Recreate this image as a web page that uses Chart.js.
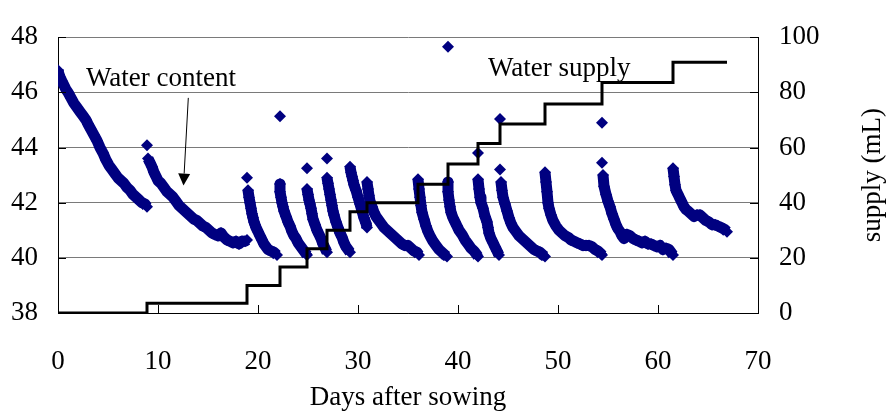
<!DOCTYPE html>
<html>
<head>
<meta charset="utf-8">
<script src="https://cdn.jsdelivr.net/npm/chart.js@4.4.1/dist/chart.umd.min.js"></script>
<style>
  html, body { margin: 0; padding: 0; background: #fff; }
</style>
</head>
<body>
<canvas id="chart" width="890" height="414"></canvas>
<script>
// ===== DATA =====
const dayTicks = [0, 10, 20, 30, 40, 50, 60, 70];
const contentTicks = [38, 40, 42, 44, 46, 48];
const supplyTicks = [0, 20, 40, 60, 80, 100];

// water content readings, one line per watering cycle
const contentDays = [
  0, 0.1, 0.2, 0.4, 0.6, 0.8, 1.0, 1.3, 1.6, 1.9, 2.2, 2.5, 2.8, 3.0, 3.3, 3.6, 3.9, 4.2, 4.5, 4.8, 5.1, 5.4, 5.7, 6.0, 6.3, 6.6, 6.9, 7.2, 7.5, 7.8, 8.1, 8.4, 8.7, 8.9,
  8.9, 9.0, 9.2, 9.4, 9.6, 9.8, 10.0, 10.3, 10.6, 10.9, 11.2, 11.5, 11.8, 12.1, 12.4, 12.7, 13.0, 13.3, 13.6, 13.9, 14.2, 14.5, 14.8, 15.1, 15.4, 15.7, 16.0, 16.3, 16.6, 16.9, 17.2, 17.5, 17.8, 18.1, 18.4, 18.7, 18.9,
  18.9, 19.0, 19.1, 19.2, 19.3, 19.4, 19.5, 19.6, 19.7, 19.8, 20.0, 20.2, 20.4, 20.6, 20.8, 21.0, 21.3, 21.6, 21.9,
  22.2, 22.2, 22.2, 22.3, 22.4, 22.5, 22.6, 22.8, 23.0, 23.2, 23.4, 23.6, 23.8, 24.0, 24.2, 24.4, 24.6, 24.8, 24.9,
  24.9, 24.9, 25.0, 25.1, 25.2, 25.3, 25.4, 25.5, 25.7, 25.9, 26.1, 26.3, 26.5, 26.7, 26.9,
  26.9, 26.9, 27.0, 27.1, 27.2, 27.3, 27.4, 27.5, 27.6, 27.8, 28.0, 28.2, 28.4, 28.6, 28.8, 29.0, 29.2,
  29.2, 29.3, 29.4, 29.5, 29.6, 29.8, 30.0, 30.2, 30.4, 30.6, 30.8, 30.9,
  30.9, 31.0, 31.1, 31.2, 31.4, 31.6, 31.8, 32.0, 32.3, 32.6, 32.9, 33.2, 33.5, 33.8, 34.1, 34.4, 34.7, 35.0, 35.3, 35.6, 35.9, 36.1,
  36.0, 36.1, 36.2, 36.3, 36.4, 36.6, 36.8, 37.0, 37.2, 37.5, 37.8, 38.1, 38.4, 38.7, 38.9,
  39.0, 39.0, 39.0, 39.1, 39.2, 39.3, 39.5, 39.7, 39.9, 40.1, 40.4, 40.7, 41.0, 41.3, 41.6, 41.9, 42.0,
  42.0, 42.0, 42.1, 42.2, 42.3, 42.5, 42.7, 42.9, 43.0, 43.1, 43.3, 43.5, 43.7, 43.9, 44.1,
  44.2, 44.2, 44.3, 44.4, 44.5, 44.7, 44.9, 45.1, 45.3, 45.5, 45.8, 46.1, 46.4, 46.7, 47.0, 47.3, 47.6, 47.9, 48.2, 48.5, 48.7,
  48.7, 48.8, 48.9, 49.0, 49.1, 49.3, 49.5, 49.8, 50.1, 50.4, 50.7, 51.0, 51.3, 51.6, 51.9, 52.2, 52.5, 52.8, 53.1, 53.4, 53.7, 54.0, 54.3, 54.4,
  54.4, 54.4, 54.5, 54.6, 54.8, 55.0, 55.2, 55.4, 55.6, 55.8, 56.0, 56.2, 56.4, 56.6, 56.9, 57.2, 57.5, 57.8, 58.1, 58.4, 58.7, 59.0, 59.3, 59.6, 59.9, 60.2, 60.5, 60.8, 61.1, 61.3, 61.5,
  61.5, 61.6, 61.7, 61.8, 62.0, 62.2, 62.4, 62.6, 62.8, 63.0, 63.3, 63.6, 63.9, 64.2, 64.5, 64.8, 65.1, 65.4, 65.7, 66.0, 66.3, 66.6, 66.9
];
const contentValues = [
  46.8, 46.65, 46.55, 46.4, 46.25, 46.1, 46.0, 45.8, 45.6, 45.45, 45.3, 45.15, 45.0, 44.85, 44.65, 44.45, 44.25, 44.0, 43.8, 43.55, 43.35, 43.2, 43.05, 42.9, 42.8, 42.7, 42.55, 42.45, 42.3, 42.2, 42.1, 42.0, 41.95, 41.85,
  44.08, 43.6, 43.45, 43.3, 43.1, 42.95, 42.8, 42.7, 42.55, 42.4, 42.3, 42.2, 42.05, 41.9, 41.8, 41.7, 41.6, 41.5, 41.4, 41.35, 41.25, 41.15, 41.1, 41.0, 40.9, 40.85, 40.8, 40.9, 40.75, 40.65, 40.6, 40.55, 40.6, 40.5, 40.6, 40.6, 40.65,
  42.9, 42.45, 42.2, 42.0, 41.8, 41.6, 41.45, 41.3, 41.2, 41.1, 40.95, 40.8, 40.65, 40.5, 40.4, 40.3, 40.25, 40.2, 40.1,
  45.13, 42.68, 42.4, 42.2, 42.0, 41.85, 41.7, 41.5, 41.3, 41.15, 40.95, 40.8, 40.7, 40.55, 40.45, 40.35, 40.25, 40.15, 40.1,
  43.25, 42.5, 42.3, 42.1, 41.95, 41.8, 41.6, 41.4, 41.2, 41.0, 40.85, 40.7, 40.5, 40.35, 40.2,
  43.6, 42.9, 42.7, 42.5, 42.3, 42.1, 41.9, 41.7, 41.55, 41.3, 41.1, 40.9, 40.75, 40.55, 40.4, 40.3, 40.2,
  43.3, 43.1, 42.95, 42.8, 42.65, 42.45, 42.2, 41.95, 41.7, 41.45, 41.25, 41.1,
  42.75, 42.5, 42.25, 42.05, 41.85, 41.65, 41.5, 41.4, 41.25, 41.1, 41.0, 40.9, 40.8, 40.7, 40.6, 40.5, 40.45, 40.45, 40.35, 40.25, 40.2, 40.1,
  42.85, 42.5, 42.2, 41.9, 41.65, 41.4, 41.15, 40.95, 40.8, 40.6, 40.45, 40.3, 40.2, 40.1, 40.05,
  47.65, 42.75, 42.4, 42.1, 41.85, 41.65, 41.45, 41.3, 41.15, 41.0, 40.85, 40.65, 40.5, 40.35, 40.25, 40.1, 40.05,
  43.8, 42.85, 42.5, 42.2, 42.0, 41.8, 41.5, 41.3, 41.1, 40.9, 40.7, 40.55, 40.4, 40.25, 40.1,
  45.03, 43.2, 42.75, 42.45, 42.2, 41.95, 41.7, 41.45, 41.25, 41.1, 40.95, 40.8, 40.7, 40.6, 40.5, 40.4, 40.3, 40.25, 40.2, 40.1, 40.05,
  43.1, 42.75, 42.4, 42.0, 41.8, 41.55, 41.35, 41.15, 41.0, 40.9, 40.8, 40.75, 40.65, 40.6, 40.55, 40.5, 40.45, 40.45, 40.45, 40.4, 40.3, 40.25, 40.15, 40.1,
  44.9, 43.45, 43.0, 42.6, 42.3, 42.05, 41.85, 41.6, 41.4, 41.2, 41.05, 40.95, 40.8, 40.7, 40.85, 40.8, 40.7, 40.65, 40.6, 40.55, 40.6, 40.5, 40.5, 40.45, 40.4, 40.45, 40.3, 40.35, 40.3, 40.2, 40.1,
  43.25, 42.95, 42.65, 42.45, 42.3, 42.15, 42.0, 41.85, 41.75, 41.7, 41.6, 41.5, 41.55, 41.55, 41.45, 41.35, 41.3, 41.2, 41.2, 41.15, 41.1, 41.05, 40.95
];

// cumulative water supply (mL), steps
const supplyDays = [0, 8.9, 18.9, 22.2, 24.9, 26.9, 29.2, 30.9, 36.0, 39.0, 42.0, 44.2, 48.7, 54.4, 61.5, 66.9];
const supplyValues = [0, 3.5, 10, 16.7, 23.3, 30, 36.7, 40, 46.7, 54, 61.5, 68.5, 75.8, 83.6, 90.9, 90.9];

if (contentDays.length !== contentValues.length) console.warn("content arrays differ", contentDays.length, contentValues.length);

// ===== CHART =====
const FONT = "'Liberation Serif', 'Times New Roman', serif";
const NAVY = "#000080";
Chart.defaults.font.family = FONT;
Chart.defaults.font.size = 27;
Chart.defaults.color = "#000";

// readings are so dense they merge into a band; only break it at re-watering jumps and lone points
const bandColor = c => {
  const dy = c.p1.parsed.y - c.p0.parsed.y;
  return (dy > 0.3 || dy < -0.42) ? "rgba(0,0,0,0)" : NAVY;
};

const extras = {
  id: "extras",
  afterDraw(chart) {
    const { ctx, chartArea, scales: { x, y, y1 } } = chart;
    ctx.save();

    // inner tick marks
    ctx.strokeStyle = "#000";
    ctx.lineWidth = 1;
    ctx.beginPath();
    contentTicks.forEach(v => {
      const p = Math.round(y.getPixelForValue(v)) + 0.5;
      ctx.moveTo(chartArea.left, p);
      ctx.lineTo(chartArea.left + 8, p);
    });
    supplyTicks.forEach(v => {
      const p = Math.round(y1.getPixelForValue(v)) + 0.5;
      ctx.moveTo(chartArea.right - 8, p);
      ctx.lineTo(chartArea.right, p);
    });
    dayTicks.forEach(v => {
      const p = Math.round(x.getPixelForValue(v)) + 0.5;
      ctx.moveTo(p, chartArea.bottom - 8);
      ctx.lineTo(p, chartArea.bottom);
    });
    ctx.stroke();

    // labels
    ctx.fillStyle = "#000";
    ctx.font = "27px " + FONT;
    ctx.textBaseline = "alphabetic";
    ctx.textAlign = "left";
    ctx.fillText("Water content", x.getPixelForValue(2.8), y.getPixelForValue(46.23));
    ctx.fillText("Water supply", x.getPixelForValue(43.0), y.getPixelForValue(46.61));

    // arrow to the water content curve
    const ax0 = x.getPixelForValue(13.03), ay0 = y.getPixelForValue(45.8);
    const ax1 = x.getPixelForValue(12.55), ay1 = y.getPixelForValue(42.62);
    const ang = Math.atan2(ay1 - ay0, ax1 - ax0);
    const head = 12, half = 6;
    const bx = ax1 - head * Math.cos(ang), by = ay1 - head * Math.sin(ang);
    ctx.beginPath();
    ctx.moveTo(ax0, ay0);
    ctx.lineTo(bx, by);
    ctx.stroke();
    ctx.beginPath();
    ctx.moveTo(ax1, ay1);
    ctx.lineTo(bx + half * Math.sin(ang), by - half * Math.cos(ang));
    ctx.lineTo(bx - half * Math.sin(ang), by + half * Math.cos(ang));
    ctx.closePath();
    ctx.fill();

    // right axis title
    ctx.translate(chart.width - 17, (chartArea.top + chartArea.bottom) / 2);
    ctx.rotate(-Math.PI / 2);
    ctx.textAlign = "center";
    ctx.textBaseline = "middle";
    ctx.fillText("supply (mL)", 0, 0);
    ctx.restore();
  }
};

new Chart(document.getElementById("chart"), {
  type: "line",
  data: {
    datasets: [
      {
        label: "Water supply",
        data: supplyDays.map((d, i) => ({ x: d, y: supplyValues[i] })),
        yAxisID: "y1",
        borderColor: "#000",
        borderWidth: 3,
        stepped: "before",
        pointRadius: 0,
        fill: false,
        order: 0
      },
      {
        label: "Water content",
        data: contentDays.map((d, i) => ({ x: d, y: contentValues[i] })),
        yAxisID: "y",
        showLine: true,
        borderWidth: 11,
        borderColor: NAVY,
        borderJoinStyle: "round",
        borderCapStyle: "butt",
        segment: { borderColor: bandColor },
        pointStyle: "rectRot",
        pointRadius: 6,
        pointBorderWidth: 0,
        pointBackgroundColor: NAVY,
        pointBorderColor: NAVY,
        fill: false,
        order: 1
      }
    ]
  },
  options: {
    responsive: false,
    animation: false,
    layout: { padding: { top: 25, left: 0, right: 0, bottom: 0 } },
    plugins: {
      legend: { display: false },
      tooltip: { enabled: false }
    },
    scales: {
      x: {
        type: "linear",
        min: 0,
        max: 70,
        afterBuildTicks: s => { s.ticks = dayTicks.map(v => ({ value: v })); },
        afterFit: s => { s.height = 101; },
        grid: { display: false },
        border: { display: true, color: "#000", width: 1 },
        ticks: { padding: 25, maxRotation: 0 },
        title: { display: true, text: "Days after sowing", padding: { top: 0, bottom: 0 } }
      },
      y: {
        position: "left",
        min: 38,
        max: 48,
        afterBuildTicks: s => { s.ticks = contentTicks.map(v => ({ value: v })); },
        afterFit: s => { s.width = 58; },
        grid: {
          drawTicks: false,
          color: c => (c.tick && c.tick.value === 38 ? "#000" : "#7a7a7a")
        },
        border: { display: true, color: "#000", width: 1 },
        ticks: { padding: 20 }
      },
      y1: {
        position: "right",
        min: 0,
        max: 100,
        afterBuildTicks: s => { s.ticks = supplyTicks.map(v => ({ value: v })); },
        afterFit: s => { s.width = 132; },
        grid: { display: false, drawTicks: false },
        border: { display: true, color: "#000", width: 1 },
        ticks: { padding: 21 }
      }
    }
  },
  plugins: [extras]
});
</script>
</body>
</html>
